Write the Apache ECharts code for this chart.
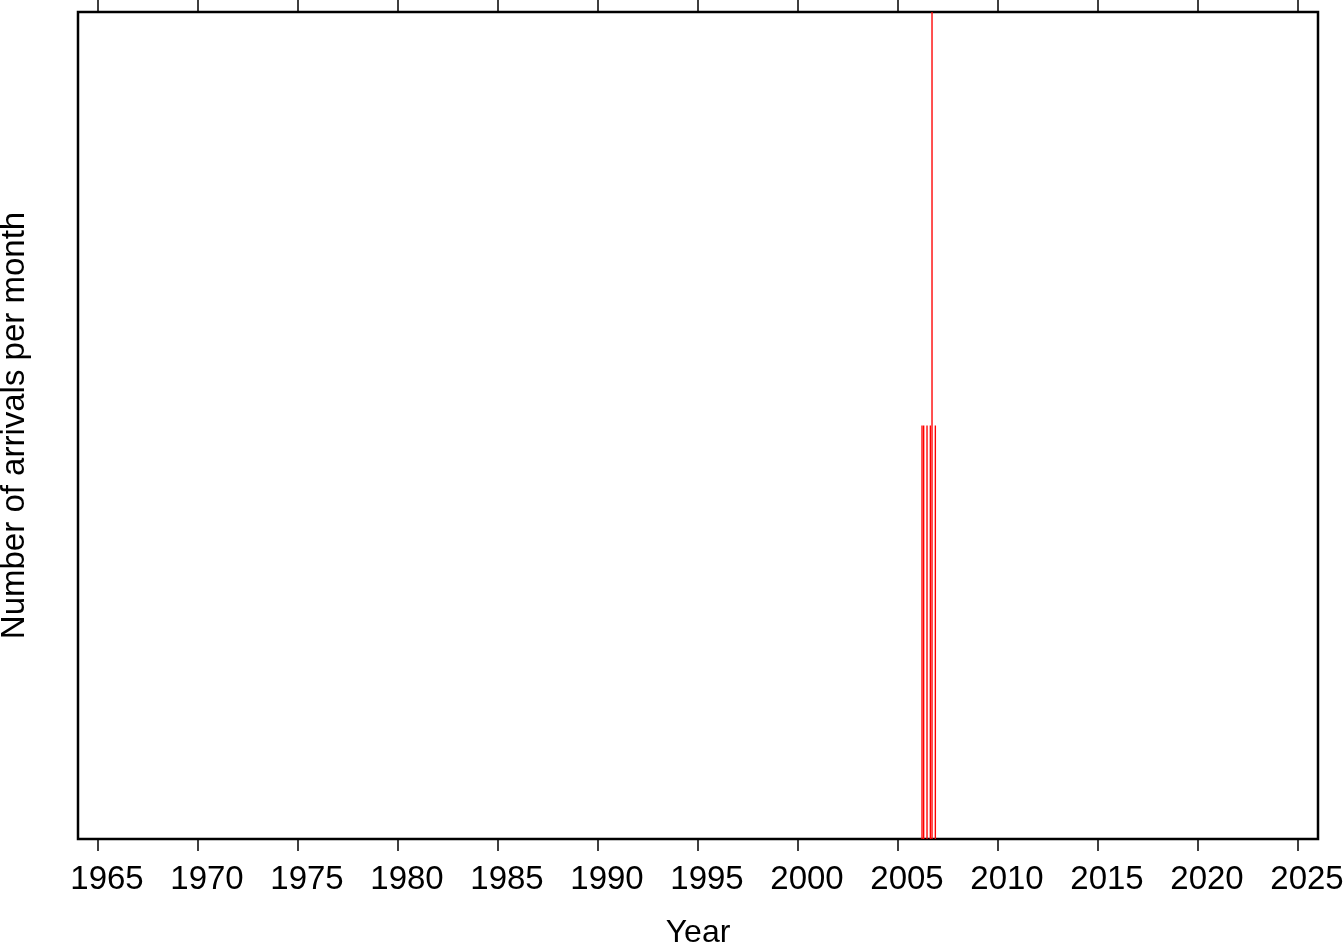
<!DOCTYPE html>
<html>
<head>
<meta charset="utf-8">
<script src="https://cdn.jsdelivr.net/npm/echarts@6/dist/echarts.min.js"></script>
<style>html,body{margin:0;padding:0;background:#fff}#c{width:1344px;height:942px}</style>
</head>
<body>
<div id="c"></div>
<script>
const months = ['2006-03', '2006-04', '2006-06', '2006-08', '2006-09', '2006-11'];
const arrivals = [1, 1, 1, 1, 3, 1];
const yearTicks = [1965, 1970, 1975, 1980, 1985, 1990, 1995, 2000, 2005, 2010, 2015, 2020, 2025];
const xMin = 1964, xMax = 2026, yMin = 0, yMax = 2;

const data = months.map((m, i) => {
  const [y, mo] = m.split('-').map(Number);
  return [y + (mo - 1) / 12, arrivals[i]];
});

const chart = echarts.init(document.getElementById('c'));
const font = 'Liberation Sans, Arial, Helvetica, sans-serif';
const tickStyle = { color: '#000', width: 1.5 };

chart.setOption({
  animation: false,
  backgroundColor: '#fff',
  grid: { left: 78, right: 26, top: 12, bottom: 103, containLabel: false, outerBoundsMode: 'none',
    show: true, borderColor: '#000', borderWidth: 2.5, backgroundColor: 'transparent' },
  xAxis: [{
    type: 'value', min: xMin, max: xMax, position: 'bottom',
    axisLine: { show: false },
    splitLine: { show: false },
    axisTick: { show: true, inside: false, length: 12, customValues: yearTicks, lineStyle: tickStyle },
    axisLabel: { show: true, customValues: yearTicks, fontSize: 33, color: '#000', fontFamily: font, margin: 24,
      padding: [0, 0, 0, 18], formatter: v => String(v) },
    name: 'Year', nameLocation: 'middle', nameGap: 78,
    nameTextStyle: { fontSize: 32, color: '#000', fontFamily: font }
  }, {
    type: 'value', min: xMin, max: xMax, position: 'top',
    axisLine: { show: false },
    splitLine: { show: false },
    axisTick: { show: true, inside: false, length: 12, customValues: yearTicks, lineStyle: tickStyle },
    axisLabel: { show: false }
  }],
  yAxis: {
    type: 'value', min: yMin, max: yMax,
    axisLine: { show: false }, axisTick: { show: false }, axisLabel: { show: false }, splitLine: { show: false },
    name: 'Number of arrivals per month', nameLocation: 'middle', nameGap: 47,
    nameTextStyle: { fontSize: 33, color: '#000', fontFamily: font }
  },
  series: [{
    type: 'custom',
    xAxisIndex: 0,
    clip: true,
    data: data,
    renderItem: function (params, api) {
      const s = api.value(0), v = api.value(1);
      const p0 = api.coord([s, 0]);
      const p1 = api.coord([s + 1 / 12, v]);
      const rect = echarts.graphic.clipRectByRect(
        { x: p0[0], y: p1[1], width: Math.max(p1[0] - p0[0] - 0.3, 1), height: p0[1] - p1[1] },
        { x: params.coordSys.x, y: params.coordSys.y, width: params.coordSys.width, height: params.coordSys.height }
      );
      return rect && { type: 'rect', shape: rect, style: { fill: '#ff0000' } };
    }
  }]
});
</script>
</body>
</html>
